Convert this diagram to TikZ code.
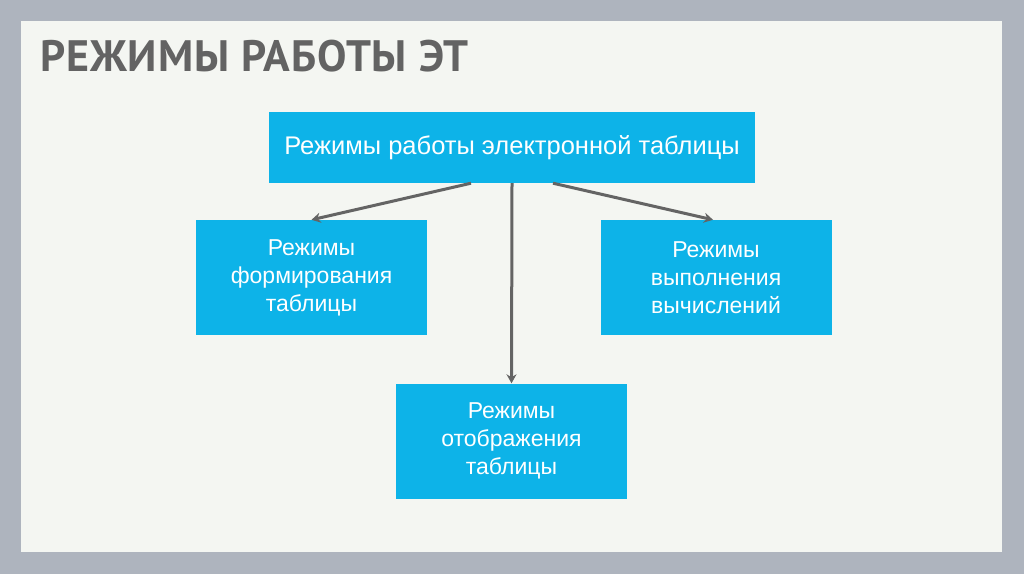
\documentclass[tikz,border=0pt]{standalone}
\usepackage{fontspec}
\setmainfont{Liberation Sans}
\newfontfamily\titlefont[LetterSpace=2.0]{PT Sans}
\usetikzlibrary{arrows.meta}
\definecolor{frame}{HTML}{AEB4BE}
\definecolor{panel}{HTML}{F4F6F2}
\definecolor{boxblue}{HTML}{0DB3E8}
\definecolor{titlegray}{HTML}{636363}
\definecolor{arrowgray}{HTML}{646464}
\tikzset{
  bluebox/.style={fill=boxblue, draw=none, text=white, align=center, inner sep=0pt,
    font=\fontsize{23}{28}\selectfont},
  conn/.style={draw=arrowgray, line width=3pt, -{Stealth[length=9pt,width=10pt]}}
}
\begin{document}
\begin{tikzpicture}[x=1pt,y=-1pt]
\useasboundingbox (0,0) rectangle (1024,574);
\fill[frame] (0,0) rectangle (1024,574);
\fill[panel] (21,21) rectangle (1002,552);
\node[anchor=base west, text=titlegray, inner sep=0pt, font=\titlefont\bfseries\fontsize{44}{50}\selectfont] (title) at (40,71) {РЕЖИМЫ РАБОТЫ ЭТ};
\node[bluebox, font=\fontsize{25.5}{28}\selectfont, minimum width=486pt, minimum height=71pt] (top) at (512,147.5) {Режимы работы электронной таблицы};
\node[bluebox, minimum width=231pt, minimum height=115pt] (left) at (311.5,277.5) {Режимы\\формирования\\таблицы};
\node[bluebox, minimum width=231pt, minimum height=115pt] (right) at (716,277.5) {Режимы\\выполнения\\вычислений};
\node[bluebox, minimum width=231pt, minimum height=115pt] (bottom) at (511.5,441) {Режимы\\отображения\\таблицы};
\draw[conn] ([xshift=-41pt]top.south) -- (left.north);
\draw[conn] (top.south) -- (bottom.north);
\draw[conn] ([xshift=41pt]top.south) -- ([xshift=-3pt]right.north);
\end{tikzpicture}
\end{document}
